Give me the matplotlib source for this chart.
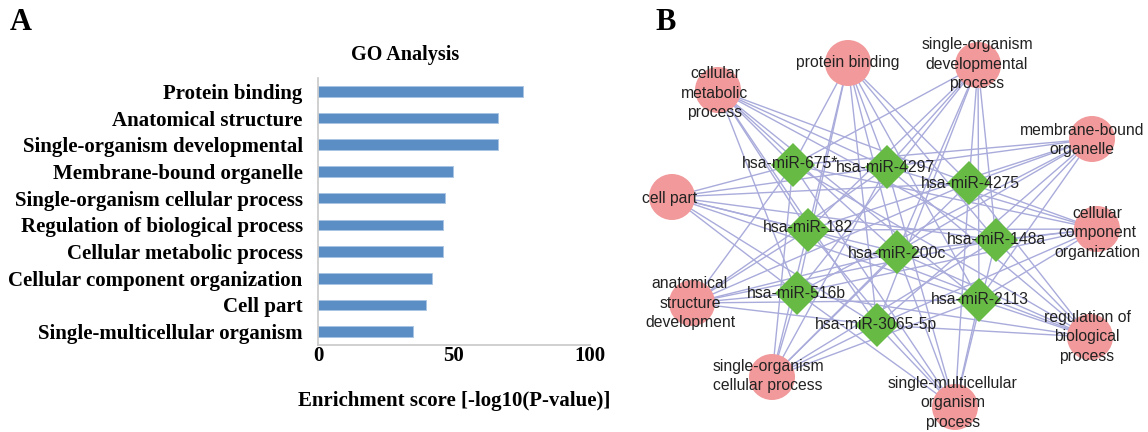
import numpy as np
import matplotlib
matplotlib.use("Agg")
import matplotlib.pyplot as plt
from matplotlib.patches import Circle, RegularPolygon

# ---- panel A data ----
go_terms = ["Protein binding", "Anatomical structure", "Single-organism developmental",
            "Membrane-bound organelle", "Single-organism cellular process",
            "Regulation of biological process", "Cellular metabolic process",
            "Cellular component organization", "Cell part", "Single-multicellular organism"]
scores = [75.3, 66.2, 66.2, 49.5, 46.8, 46.0, 45.8, 42.0, 39.8, 34.8]

# ---- panel B data (layout in pixel units) ----
go_nodes = ["protein binding", "single-organism\ndevelopmental\nprocess",
            "cellular\nmetabolic\nprocess", "membrane-bound\norganelle", "cell part",
            "cellular\ncomponent\norganization", "anatomical\nstructure\ndevelopment",
            "regulation of\nbiological\nprocess", "single-organism\ncellular process",
            "single-multicellular\norganism\nprocess"]
go_x = [848, 978, 718, 1092, 672, 1097, 692, 1090, 772, 955]
go_y = [63, 65, 90, 139, 197, 229, 303, 337, 377, 407]
go_lx = [848, 977, 715, 1082, 670, 1097, 690, 1087, 768, 953]
go_ly = [63, 64, 93, 140, 199, 233, 303, 337, 376, 403]

mir_nodes = ["hsa-miR-675*", "hsa-miR-4297", "hsa-miR-4275", "hsa-miR-182",
             "hsa-miR-200c", "hsa-miR-148a", "hsa-miR-516b", "hsa-miR-2113",
             "hsa-miR-3065-5p"]
mir_x = [793, 887, 969, 808, 897, 996, 797, 979, 877]
mir_y = [165, 167, 183, 230, 252, 240, 293, 300, 325]
mir_lx = [790, 885, 970, 808, 897, 996, 796, 980, 876]
mir_ly = [164, 168, 183, 227, 253, 240, 293, 300, 325]

W, H = 1148, 432
fig = plt.figure(figsize=(W / 100, H / 100), dpi=100)
serif = "Liberation Serif"
sans = "Liberation Sans"

# ---------------- Panel A ----------------
ax = fig.add_axes([318 / W, 1 - 345 / H, (590 - 318) / W, (345 - 78) / H])
pos = np.arange(len(go_terms))
ax.barh(pos, scores, height=0.4, color="#5a8ec4", edgecolor="#a9c4e4", linewidth=0.6)
ax.set_ylim(len(go_terms) - 0.5, -0.5)
ax.set_xlim(0, 100)
ax.set_xticks([0, 50, 100])
ax.set_yticks(pos)
ax.set_yticklabels(go_terms, fontfamily=serif, fontweight="bold", fontsize=15)
ax.set_xticklabels(["0", "50", "100"], fontfamily=serif, fontweight="bold", fontsize=15)
ax.tick_params(length=0, pad=1)
ax.tick_params(axis="y", pad=11)
for s in ["top", "right"]:
    ax.spines[s].set_visible(False)
for s in ["left", "bottom"]:
    ax.spines[s].set_color("#c8c8c8")
    ax.spines[s].set_linewidth(1.2)
ax.set_xlabel("Enrichment score [-log10(P-value)]", fontfamily=serif, fontweight="bold",
              fontsize=15, labelpad=18)
fig.text(405 / W, 1 - 55 / H, "GO Analysis", fontfamily=serif, fontweight="bold",
         fontsize=14.5, ha="center", va="center")
fig.text(10 / W, 1 - 22 / H, "A", fontfamily=serif, fontweight="bold", fontsize=22,
         ha="left", va="center")

# ---------------- Panel B ----------------
bx = fig.add_axes([620 / W, 0, (W - 620) / W, 1])
bx.set_xlim(620, W)
bx.set_ylim(H, 0)
bx.set_aspect("equal")
bx.axis("off")

# every miRNA is linked to every GO term
for gx, gy in zip(go_x, go_y):
    for mx, my in zip(mir_x, mir_y):
        bx.plot([gx, mx], [gy, my], color="#a9abdb", lw=1.0, zorder=1)

for gx, gy in zip(go_x, go_y):
    bx.add_patch(Circle((gx, gy), 23, facecolor="#f29a9b", edgecolor="none", zorder=2))
for mx, my in zip(mir_x, mir_y):
    bx.add_patch(RegularPolygon((mx, my), 4, radius=22, orientation=0,
                                facecolor="#67bb45", edgecolor="none", zorder=2))

for lab, lx, ly in zip(go_nodes, go_lx, go_ly):
    bx.text(lx, ly, lab, fontfamily=sans, fontsize=11.3, ha="center", va="center",
            linespacing=1.35, color="#222222", zorder=3)
for lab, lx, ly in zip(mir_nodes, mir_lx, mir_ly):
    bx.text(lx, ly, lab, fontfamily=sans, fontsize=11.3, ha="center", va="center",
            color="#222222", zorder=3)

fig.text(655 / W, 1 - 22 / H, "B", fontfamily=serif, fontweight="bold", fontsize=22,
         ha="left", va="center")

fig.savefig("out.png", dpi=100)
